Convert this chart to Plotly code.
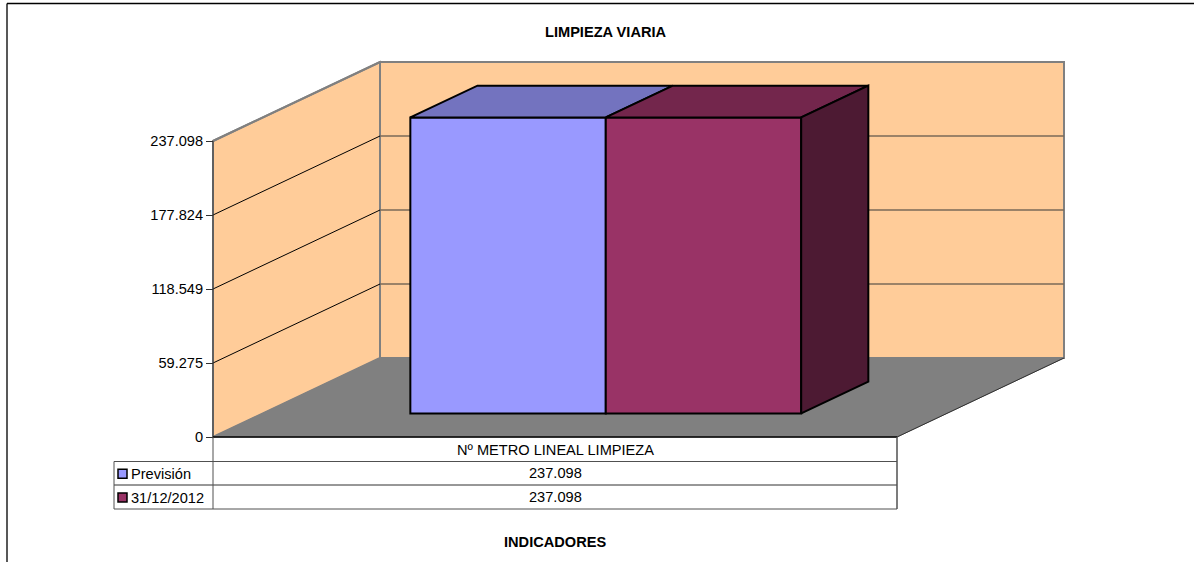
import plotly.graph_objects as go

# Data
categories = ["Nº METRO LINEAL LIMPIEZA"]
series_names = ["Previsión", "31/12/2012"]
prevision = [237098]
fin_2012 = [237098]
tick_values = [0, 59275, 118549, 177824, 237098]

front_colors = ["#9999FF", "#993366"]
top_colors = ["#7373BF", "#73264C"]
side_colors = ["#4D4D80", "#4D1A33"]

W, H = 1194, 562
# where the chart box sits in the page
FLOOR_LEFT, FLOOR_RIGHT, FLOOR_Y = 213, 897, 437
AXIS_TOP_Y = 141
DEPTH_DX, DEPTH_DY = 167, 79  # back of the box, in pixels
BAR_DEPTH_FRONT, BAR_DEPTH_BACK = 0.298, 0.70
BAR_NUDGE = 1  # pixels to the right
GAP_WIDTH = 1.5
FONT = "Liberation Sans"
TEXT_SIZE = 14.6

unit_per_px = 1 / (FLOOR_RIGHT - FLOOR_LEFT)
value_per_px = max(tick_values) / (FLOOR_Y - AXIS_TOP_Y)


def project(x, value, depth):
    """3D point on the box to plain x / value axis coordinates"""
    return (x + depth * DEPTH_DX * unit_per_px, value + depth * DEPTH_DY * value_per_px)


def poly_path(points):
    return "M " + " L ".join(f"{x},{y}" for x, y in points) + " Z"


def px(x):
    return x / W


def py(y):
    return 1 - y / H


fig = go.Figure()
shapes = []


def add_poly(points, fill, color, width):
    shapes.append(dict(type="path", path=poly_path(points), fillcolor=fill, layer="below",
                       line=dict(color=color, width=width)))


def add_seg(a, b, color, width):
    shapes.append(dict(type="line", x0=a[0], y0=a[1], x1=b[0], y1=b[1], layer="below",
                       line=dict(color=color, width=width)))


def add_page_line(x0, y0, x1, y1, color="#404040", width=1):
    shapes.append(dict(type="line", xref="paper", yref="paper", x0=px(x0), y0=py(y0), x1=px(x1), y1=py(y1),
                       line=dict(color=color, width=width)))


top = max(tick_values)
# Walls and floor
add_poly([project(0, 0, 0), project(0, top, 0), project(0, top, 1), project(0, 0, 1)], "#FFCC99", "#808080", 2)
add_poly([project(0, 0, 1), project(0, top, 1), project(1, top, 1), project(1, 0, 1)], "#FFCC99", "#808080", 2)
add_poly([project(0, 0, 0), project(1, 0, 0), project(1, 0, 1), project(0, 0, 1)], "#808080", "#808080", 1)

# Gridlines, black on the left wall and softer on the back wall
for v in tick_values[1:-1]:
    add_seg(project(0, v, 0), project(0, v, 1), "#000000", 1)
    add_seg(project(0, v, 1), project(1, v, 1), "#7A6A58", 1.5)
add_seg(project(0, top, 0), project(0, top, 1), "#808080", 2)
add_seg(project(0, 0, 0), project(0, top, 0), "#404040", 1)
add_seg(project(0, 0, 0), project(1, 0, 0), "#000000", 1.5)
add_seg(project(1, 0, 0), project(1, 0, 1), "#303030", 1)

# Bars: front faces through the value axis, top and side faces around them
values = [prevision, fin_2012]
bar_w = 1 / (len(values) + GAP_WIDTH)
lift = BAR_DEPTH_FRONT * DEPTH_DY * value_per_px
shift = BAR_DEPTH_FRONT * DEPTH_DX * unit_per_px
for i, (name, vals) in enumerate(zip(series_names, values)):
    x0 = GAP_WIDTH / 2 * bar_w + i * bar_w + BAR_NUDGE * unit_per_px
    x1 = x0 + bar_w
    fig.add_trace(go.Bar(x=[x0 + bar_w / 2 + shift], y=vals, base=[lift], width=[bar_w], name=name,
                         marker=dict(color=front_colors[i], line=dict(color="#000000", width=2)),
                         hovertemplate=name + ": %{y:,d}<extra></extra>"))
    v = vals[0]
    pts = [project(x0, v, BAR_DEPTH_FRONT), project(x1, v, BAR_DEPTH_FRONT),
           project(x1, v, BAR_DEPTH_BACK), project(x0, v, BAR_DEPTH_BACK)]
    fig.add_trace(go.Scatter(x=[p[0] for p in pts] + [pts[0][0]], y=[p[1] for p in pts] + [pts[0][1]],
                             mode="lines", fill="toself", fillcolor=top_colors[i],
                             line=dict(color="#000000", width=2), hoverinfo="skip"))
    # only the last bar shows its side, the others are hidden by the next one
    if i == len(values) - 1:
        pts = [project(x1, 0, BAR_DEPTH_FRONT), project(x1, v, BAR_DEPTH_FRONT),
               project(x1, v, BAR_DEPTH_BACK), project(x1, 0, BAR_DEPTH_BACK)]
        fig.add_trace(go.Scatter(x=[p[0] for p in pts] + [pts[0][0]], y=[p[1] for p in pts] + [pts[0][1]],
                                 mode="lines", fill="toself", fillcolor=side_colors[i],
                                 line=dict(color="#000000", width=2), hoverinfo="skip"))

# Data table under the chart
ROWS_Y = [461.5, 485, 509]
LEGEND_LEFT = 114
for y in ROWS_Y:
    add_page_line(LEGEND_LEFT, y, FLOOR_RIGHT, y, "#303030" if y == ROWS_Y[1] else "#505050")
add_page_line(LEGEND_LEFT, ROWS_Y[0], LEGEND_LEFT, ROWS_Y[-1], "#505050")
add_page_line(FLOOR_LEFT, FLOOR_Y, FLOOR_LEFT, ROWS_Y[-1], "#505050")
add_page_line(FLOOR_RIGHT, FLOOR_Y, FLOOR_RIGHT, ROWS_Y[-1], "#505050", 1.5)

annotations = []


def add_text(x, y, text, xanchor="center", bold=False, size=TEXT_SIZE):
    annotations.append(dict(xref="paper", yref="paper", x=px(x), y=py(y), text=f"<b>{text}</b>" if bold else text,
                            xanchor=xanchor, yanchor="middle", showarrow=False, borderpad=0, borderwidth=0,
                            font=dict(family=FONT, size=size, color="#000000")))


table_mid = (FLOOR_LEFT + FLOOR_RIGHT) / 2
add_text(table_mid, 449.5, categories[0])
for i, (name, vals) in enumerate(zip(series_names, values)):
    row_y = (ROWS_Y[i] + ROWS_Y[i + 1]) / 2
    add_text(table_mid, row_y, f"{vals[0]:,}".replace(",", "."))
    add_text(130.5, row_y + 0.5, name, xanchor="left")
    shapes.append(dict(type="rect", xref="paper", yref="paper", x0=px(118), x1=px(127), y0=py(row_y - 4), y1=py(row_y + 5),
                       fillcolor=front_colors[i], line=dict(color="#000000", width=1.5)))

add_text(605.5, 32, "LIMPIEZA VIARIA", bold=True)
add_text(555, 542, "INDICADORES", bold=True)

# Outer frame of the sheet, cut by the page on the right and bottom
add_page_line(7, H, 7, 3.5, "#202020", 1.5)
add_page_line(7, 3.5, W, 3.5, "#000000", 1.5)

fig.update_layout(
    width=W, height=H,
    margin=dict(l=0, r=0, t=0, b=0),
    paper_bgcolor="white", plot_bgcolor="white",
    separators=",.",
    barmode="overlay",
    showlegend=False,
    shapes=shapes,
    annotations=annotations,
    font=dict(family=FONT, size=TEXT_SIZE, color="#000000"),
    xaxis=dict(range=[-FLOOR_LEFT * unit_per_px, (W - FLOOR_LEFT) * unit_per_px], visible=False, fixedrange=True),
    yaxis=dict(range=[-(H - FLOOR_Y) * value_per_px, FLOOR_Y * value_per_px], anchor="free", position=FLOOR_LEFT / W,
               tickmode="array", tickvals=tick_values, tickformat=",d", ticks="outside", ticklen=7, tickwidth=1,
               tickcolor="#303030", showgrid=False, zeroline=False, showline=False, fixedrange=True),
)

fig.write_html("out.html", config={"displayModeBar": False},
               post_script="document.body.style.margin='0';document.body.style.overflow='hidden';")
